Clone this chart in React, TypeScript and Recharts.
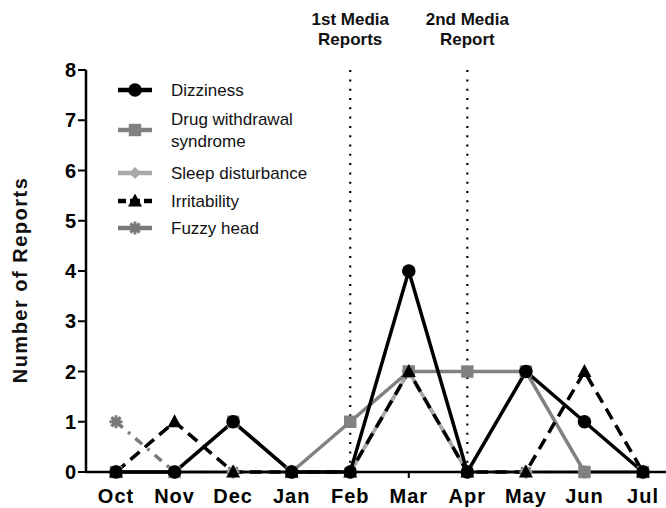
import { LineChart, Line, XAxis, YAxis, ReferenceLine } from "recharts";

const months = ["Oct", "Nov", "Dec", "Jan", "Feb", "Mar", "Apr", "May", "Jun", "Jul"];
const dizziness = [0, 0, 1, 0, 0, 4, 0, 2, 1, 0];
const drugWithdrawal = [0, 0, 1, 0, 1, 2, 2, 2, 0, 0];
const sleepDisturbance = [0, 0, 0, 0, 0, 2, 0, 0, 0, 0];
const irritability = [0, 1, 0, 0, 0, 2, 0, 0, 2, 0];
const fuzzyHead = [1, 0, 0, 0, 0, 2, 0, 0, 0, 0];
const yTicks = [0, 1, 2, 3, 4, 5, 6, 7, 8];
const mediaReports = [
  { month: "Feb", lines: ["1st Media", "Reports"] },
  { month: "Apr", lines: ["2nd Media", "Report"] },
];

const data = months.map((month, i) => ({
  month,
  dizziness: dizziness[i],
  drugWithdrawal: drugWithdrawal[i],
  sleepDisturbance: sleepDisturbance[i],
  irritability: irritability[i],
  fuzzyHead: fuzzyHead[i],
}));

const FONT = "'Liberation Sans', Arial, Helvetica, sans-serif";

type Shape = "circle" | "square" | "diamond" | "triangle" | "star";

function Marker({ shape, cx, cy, color }: { shape: Shape; cx: number; cy: number; color: string }) {
  if (shape === "circle") return <circle cx={cx} cy={cy} r={6.8} fill={color} />;
  if (shape === "square")
    return <rect x={cx - 6.2} y={cy - 6.2} width={12.4} height={12.4} fill={color} />;
  if (shape === "diamond")
    return (
      <polygon
        points={`${cx},${cy - 6} ${cx + 6},${cy} ${cx},${cy + 6} ${cx - 6},${cy}`}
        fill={color}
      />
    );
  if (shape === "triangle")
    return (
      <polygon
        points={`${cx},${cy - 7.5} ${cx + 7},${cy + 5.5} ${cx - 7},${cy + 5.5}`}
        fill={color}
      />
    );
  // asterisk-like star
  const arms = [0, 45, 90, 135].map((a) => {
    const r = (a * Math.PI) / 180;
    const dx = Math.cos(r) * 6.5;
    const dy = Math.sin(r) * 6.5;
    return (
      <line
        key={a}
        x1={cx - dx}
        y1={cy - dy}
        x2={cx + dx}
        y2={cy + dy}
        stroke={color}
        strokeWidth={3}
      />
    );
  });
  return (
    <g>
      <circle cx={cx} cy={cy} r={4} fill={color} />
      {arms}
    </g>
  );
}

const series = [
  { key: "fuzzyHead", name: "Fuzzy head", color: "#7a7a7a", dash: "9 7 2.5 7", shape: "star" as Shape },
  { key: "sleepDisturbance", name: "Sleep disturbance", color: "#a8a8a8", dash: undefined, shape: "diamond" as Shape },
  { key: "drugWithdrawal", name: "Drug withdrawal syndrome", color: "#818181", dash: undefined, shape: "square" as Shape },
  { key: "irritability", name: "Irritability", color: "#000000", dash: "12 7", shape: "triangle" as Shape },
  { key: "dizziness", name: "Dizziness", color: "#000000", dash: undefined, shape: "circle" as Shape },
];

// legend order, top to bottom; drug withdrawal wraps onto two lines
const legendOrder = ["dizziness", "drugWithdrawal", "sleepDisturbance", "irritability", "fuzzyHead"];
const legendRowY = [90, 130, 173, 201, 228];

function LegendBox() {
  return (
    <svg width={666} height={260} style={{ display: "block" }}>
      {legendOrder.map((k, i) => {
        const s = series.find((x) => x.key === k)!;
        const cy = legendRowY[i];
        return (
          <g key={k}>
            <line
              x1={118}
              x2={152}
              y1={cy}
              y2={cy}
              stroke={s.color}
              strokeWidth={4.5}
              strokeDasharray={k === "irritability" ? "8 4 10 4 8" : undefined}
            />
            <Marker shape={s.shape} cx={135} cy={cy} color={s.color} />
            {k === "drugWithdrawal" ? (
              <text fontFamily={FONT} fontSize={17} fill="#111">
                <tspan x={171} y={cy - 5}>Drug withdrawal</tspan>
                <tspan x={171} y={cy + 17}>syndrome</tspan>
              </text>
            ) : (
              <text x={171} y={cy + 6} fontFamily={FONT} fontSize={17} fill="#111">
                {s.name}
              </text>
            )}
          </g>
        );
      })}
    </svg>
  );
}

function MediaLabel(props: any) {
  const { viewBox, lines } = props;
  const x = viewBox.x;
  const y = viewBox.y;
  return (
    <text textAnchor="middle" fontFamily={FONT} fontWeight="bold" fontSize={17} fill="#111">
      <tspan x={x} y={y - 45}>{lines[0]}</tspan>
      <tspan x={x} y={y - 25}>{lines[1]}</tspan>
    </text>
  );
}

function YLabel(props: any) {
  const { viewBox } = props;
  const cx = viewBox.x - 6;
  const cy = viewBox.y + viewBox.height / 2 + 9;
  return (
    <text
      x={cx}
      y={cy}
      transform={`rotate(-90, ${cx}, ${cy})`}
      textAnchor="middle"
      dominantBaseline="central"
      fontFamily={FONT}
      fontWeight="bold"
      fontSize={20}
      letterSpacing={1.5}
      fill="#111"
    >
      Number of Reports
    </text>
  );
}

export default function App() {
  return (
    <div style={{ position: "absolute", left: 0, top: 0, width: 666, height: 508, background: "#fff" }}>
      <LineChart width={666} height={508} data={data} margin={{ top: 70, right: 0, bottom: 6, left: 26 }}>
        <XAxis
          dataKey="month"
          height={30}
          padding={{ left: 30, right: 23 }}
          axisLine={{ stroke: "#000", strokeWidth: 2.5 }}
          tickLine={{ stroke: "#000", strokeWidth: 2 }}
          tickSize={6}
          tickMargin={11}
          tick={{ fill: "#000", fontFamily: FONT, fontWeight: "bold", fontSize: 20, letterSpacing: 1 }}
          interval={0}
        />
        <YAxis
          width={60}
          domain={[0, 8]}
          ticks={yTicks}
          interval={0}
          axisLine={{ stroke: "#000", strokeWidth: 2.5 }}
          tickLine={{ stroke: "#000", strokeWidth: 2 }}
          tickSize={8}
          tickMargin={2}
          tick={{ fill: "#000", fontFamily: FONT, fontWeight: "bold", fontSize: 20 }}
          label={<YLabel />}
        />
        {mediaReports.map((m) => (
          <ReferenceLine
            key={m.month}
            x={m.month}
            stroke="#000"
            strokeWidth={2.2}
            strokeDasharray="2 7.3"
            label={<MediaLabel lines={m.lines} />}
          />
        ))}
        {series.map((s) => (
          <Line
            key={s.key}
            dataKey={s.key}
            name={s.name}
            type="linear"
            stroke={s.color}
            strokeWidth={3.5}
            strokeDasharray={s.dash}
            isAnimationActive={false}
            dot={(p: any) => (
              <Marker key={`${s.key}-${p.index}`} shape={s.shape} cx={p.cx} cy={p.cy} color={s.color} />
            )}
            activeDot={false}
          />
        ))}
      </LineChart>
      <div style={{ position: "absolute", left: 0, top: 0, pointerEvents: "none" }}>
        <LegendBox />
      </div>
    </div>
  );
}
